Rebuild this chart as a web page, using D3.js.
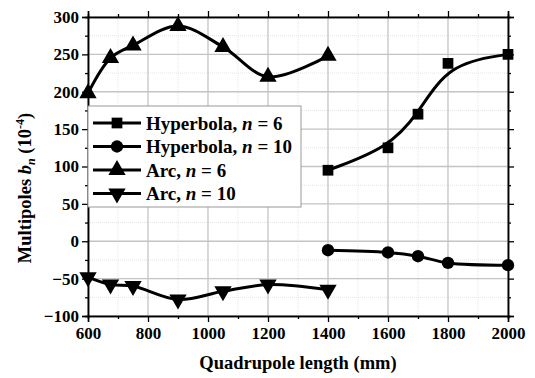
<!DOCTYPE html>
<html>
<head>
<meta charset="utf-8">
<script src="https://cdnjs.cloudflare.com/ajax/libs/d3/7.8.5/d3.min.js"></script>
<style>
  body { margin: 0; background: #fff; }
  text { font-family: "Liberation Serif", "Times New Roman", serif; font-weight: bold; }
</style>
</head>
<body>
<div id="chart"></div>
<script>
// data
var hypX = [1400, 1600, 1700, 1800, 2000];
var hyp6 = [95, 125, 170, 238, 250];
var hyp10 = [-12, -15, -20, -29, -32];
var arcX = [600, 675, 750, 900, 1050, 1200, 1400];
var arc6 = [198, 245, 262, 288, 260, 220, 248];
var arc10 = [-48, -58, -60, -78, -67, -58, -65];

var xTicks = [600, 800, 1000, 1200, 1400, 1600, 1800, 2000];
var xMinor = [700, 900, 1100, 1300, 1500, 1700, 1900];
var yTicks = [-100, -50, 0, 50, 100, 150, 200, 250, 300];
var yMinor = [-75, -25, 25, 75, 125, 175, 225, 275];

var seriesNames = ["Hyperbola", "Hyperbola", "Arc", "Arc"];
var seriesN = ["6", "10", "6", "10"];

var margin = {top: 17, right: 27, bottom: 62, left: 88},
    width = 535 - margin.left - margin.right,
    height = 378 - margin.top - margin.bottom;

var x = d3.scaleLinear().domain([600, 2000]).range([0, width]);
var y = d3.scaleLinear().domain([-100, 300]).range([height, 0]);

var svg = d3.select("#chart").append("svg")
    .attr("width", 535)
    .attr("height", 378)
  .append("g")
    .attr("transform", "translate(" + margin.left + "," + margin.top + ")");

// grid, minor first then major
svg.append("g").selectAll("line.vm").data(xMinor).enter().append("line")
    .attr("x1", d => x(d)).attr("x2", d => x(d)).attr("y1", 0).attr("y2", height)
    .attr("stroke", "#e4e4e4").attr("stroke-dasharray", "1,1");
svg.append("g").selectAll("line.hm").data(yMinor).enter().append("line")
    .attr("y1", d => y(d)).attr("y2", d => y(d)).attr("x1", 0).attr("x2", width)
    .attr("stroke", "#e4e4e4").attr("stroke-dasharray", "1,1");
svg.append("g").selectAll("line.v").data(xTicks).enter().append("line")
    .attr("x1", d => x(d)).attr("x2", d => x(d)).attr("y1", 0).attr("y2", height)
    .attr("stroke", "#c4c4c4").attr("stroke-width", 1.3);
svg.append("g").selectAll("line.h").data(yTicks).enter().append("line")
    .attr("y1", d => y(d)).attr("y2", d => y(d)).attr("x1", 0).attr("x2", width)
    .attr("stroke", "#c4c4c4").attr("stroke-width", 1.3);

// axes
function styleAxis(g) {
  g.selectAll(".domain").attr("stroke", "#000").attr("stroke-width", 1.5);
  g.selectAll(".tick line").attr("stroke", "#000").attr("stroke-width", 1.3);
  g.selectAll(".tick text").attr("fill", "#000").style("font-size", "17px");
}

svg.append("g").attr("transform", "translate(0," + height + ")")
  .call(d3.axisBottom(x).tickValues(xTicks).tickSize(6).tickPadding(5).tickFormat(d3.format("d")))
  .call(styleAxis);
svg.append("g").attr("transform", "translate(0," + height + ")")
  .call(d3.axisBottom(x).tickValues(xMinor).tickSize(3).tickFormat(""))
  .call(styleAxis);
svg.append("g")
  .call(d3.axisLeft(y).tickValues(yTicks).tickSize(6).tickPadding(3).tickFormat(d3.format("d")))
  .call(styleAxis);
svg.append("g")
  .call(d3.axisLeft(y).tickValues(yMinor).tickSize(3).tickFormat(""))
  .call(styleAxis);
svg.append("g")
  .call(d3.axisTop(x).tickValues(xTicks).tickSize(6).tickFormat(""))
  .call(styleAxis);
svg.append("g")
  .call(d3.axisTop(x).tickValues(xMinor).tickSize(3).tickFormat(""))
  .call(styleAxis);
svg.append("g").attr("transform", "translate(" + width + ",0)")
  .call(d3.axisRight(y).tickValues(yTicks).tickSize(6).tickFormat(""))
  .call(styleAxis);
svg.append("g").attr("transform", "translate(" + width + ",0)")
  .call(d3.axisRight(y).tickValues(yMinor).tickSize(3).tickFormat(""))
  .call(styleAxis);

// legend box (drawn under the curves)
var legend = svg.append("g").attr("transform", "translate(0," + 89 + ")");
legend.append("rect")
    .attr("x", 0).attr("y", 0).attr("width", 213).attr("height", 101)
    .attr("fill", "#fff").attr("stroke", "#999").attr("stroke-width", 1);

// series
var series = [
  {xs: hypX, ys: hyp6, sym: d3.symbolSquare, size: 115, rot: 0, curve: d3.curveBasis},
  {xs: hypX, ys: hyp10, sym: d3.symbolCircle, size: 120, rot: 0, curve: d3.curveCatmullRom},
  {xs: arcX, ys: arc6, sym: d3.symbolTriangle, size: 130, rot: 0, curve: d3.curveCatmullRom},
  {xs: arcX, ys: arc10, sym: d3.symbolTriangle, size: 130, rot: 180, curve: d3.curveCatmullRom}
];

series.forEach(function(s) {
  var pts = s.xs.map(function(v, i) { return [v, s.ys[i]]; });
  var line = d3.line()
      .x(function(d) { return x(d[0]); })
      .y(function(d) { return y(d[1]); })
      .curve(s.curve);
  svg.append("path").datum(pts)
      .attr("fill", "none").attr("stroke", "#000").attr("stroke-width", 3)
      .attr("d", line);
  svg.append("g").selectAll("path").data(pts).enter().append("path")
      .attr("d", d3.symbol().type(s.sym).size(s.size))
      .attr("transform", function(d) {
        return "translate(" + x(d[0]) + "," + y(d[1]) + ") rotate(" + s.rot + ")";
      })
      .attr("fill", "#000");
});

// legend entries
series.forEach(function(s, i) {
  var row = legend.append("g").attr("transform", "translate(0," + (17 + i * 23.5) + ")");
  row.append("line").attr("x1", 5).attr("x2", 53).attr("y1", 0).attr("y2", 0)
      .attr("stroke", "#000").attr("stroke-width", 3);
  row.append("path")
      .attr("d", d3.symbol().type(s.sym).size(s.size))
      .attr("transform", "translate(29,0) rotate(" + s.rot + ")")
      .attr("fill", "#000");
  var t = row.append("text").attr("x", 58).attr("y", 6.5).style("font-size", "19px").attr("fill", "#000");
  t.append("tspan").text(seriesNames[i] + ", ");
  t.append("tspan").style("font-style", "italic").text("n");
  t.append("tspan").text(" = " + seriesN[i]);
});

// axis titles
svg.append("text")
    .attr("x", width / 2).attr("y", height + 53)
    .attr("text-anchor", "middle").style("font-size", "18.5px")
    .text("Quadrupole length (mm)");

var yt = svg.append("text")
    .attr("transform", "translate(" + (-57) + "," + 171 + ") rotate(-90)")
    .attr("text-anchor", "middle").style("font-size", "18.5px");
yt.append("tspan").text("Multipoles ");
yt.append("tspan").style("font-style", "italic").text("b");
yt.append("tspan").style("font-style", "italic").style("font-size", "12px").attr("dy", 4).text("n");
yt.append("tspan").attr("dy", -4).text(" (10");
yt.append("tspan").style("font-size", "12px").attr("dy", -7).text("-4");
yt.append("tspan").attr("dy", 7).text(")");
</script>
</body>
</html>
